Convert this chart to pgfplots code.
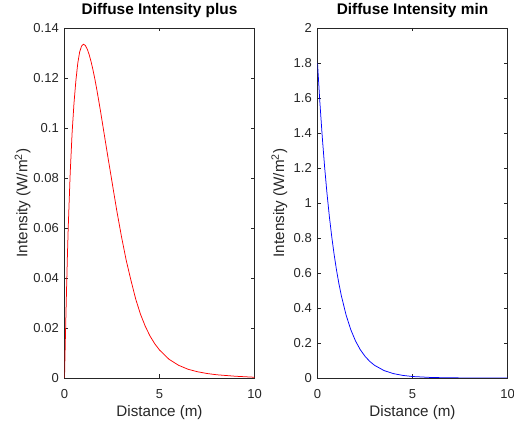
\documentclass[border=0pt]{standalone}
\usepackage{pgfplots}
\pgfplotsset{compat=1.18}
\usepackage{fontspec}
\setmainfont{Liberation Sans}
\definecolor{axgray}{rgb}{0.15,0.15,0.15}

\newcommand\labfont{\fontsize{15.2bp}{17bp}\selectfont}

\pgfplotsset{
  mlab/.style={
    scale only axis,
    width=190bp, height=350bp,
    anchor=south west,
    xmin=0, xmax=10, xtick={0,5,10},
    axis line style={axgray, line width=0.6bp},
    tick style={axgray, line width=0.6bp},
    major tick length=3.5bp,
    tick align=inside,
    xtick pos=both, ytick pos=both,
    scaled ticks=false,
    /pgf/number format/assume math mode=true,
    /pgf/number format/fixed,
    /pgf/number format/precision=2,
    tick label style={font=\fontsize{13bp}{15bp}\selectfont, text=axgray, inner sep=0pt},
    yticklabel style={xshift=-5.5bp},
    xticklabel style={yshift=-11bp},
    every axis x label/.style={at={(axis description cs:0.5,-0.111)}, anchor=base,
      font=\labfont, text=axgray},
    title style={font=\fontsize{15.4bp}{17bp}\selectfont\bfseries, text=black,
      at={(axis description cs:0.5,1)}, anchor=base, yshift=7.5bp},
    xlabel={Distance (m)},
    ylabel={Intensity (W/m\textsuperscript{2})},
  }
}

\begin{document}
\begin{tikzpicture}
\useasboundingbox (0,0) rectangle (514bp,427bp);

\begin{axis}[mlab,
  at={(64.5bp,49bp)},
  ymin=0, ymax=0.14,
  ytick={0,0.02,0.04,0.06,0.08,0.1,0.12,0.14},
  every axis y label/.style={at={(axis description cs:-0.195,0.5)}, rotate=90,
    anchor=base, font=\labfont, text=axgray},
  title={Diffuse Intensity plus},
]
\addplot[red, line width=0.75bp] coordinates {
  (0,0) (0.05,0.017) (0.1,0.033) (0.15,0.048) (0.2,0.061) (0.3,0.082)
  (0.4,0.098) (0.5,0.110) (0.6,0.119) (0.7,0.126) (0.8,0.1305) (0.9,0.1328)
  (1.0,0.1335) (1.1,0.1330) (1.2,0.1315) (1.3,0.1293) (1.4,0.1265) (1.5,0.1232)
  (1.6,0.1195) (1.7,0.1154) (1.8,0.1110) (1.9,0.1065) (2.0,0.1018)
  (2.25,0.0900) (2.5,0.0785) (2.75,0.0670) (3.0,0.0565) (3.25,0.0470)
  (3.5,0.0390) (3.75,0.0315) (4.0,0.0255) (4.25,0.0207) (4.5,0.0168)
  (4.75,0.0137) (5.0,0.0112) (5.5,0.0075) (6.0,0.0051) (6.5,0.0035)
  (7.0,0.0025) (7.5,0.0018) (8.0,0.0013) (8.5,0.0010) (9.0,0.0007)
  (9.5,0.0005) (10,0.0003)
};
\end{axis}

\begin{axis}[mlab,
  at={(317.5bp,49bp)},
  ymin=0, ymax=2,
  ytick={0,0.2,0.4,0.6,0.8,1,1.2,1.4,1.6,1.8,2},
  every axis y label/.style={at={(axis description cs:-0.176,0.5)}, rotate=90,
    anchor=base, font=\labfont, text=axgray},
  title={Diffuse Intensity min},
]
\addplot[blue, line width=0.75bp] coordinates {
  (0,1.8) (0.125,1.575) (0.25,1.378) (0.375,1.205) (0.5,1.054) (0.625,0.922)
  (0.75,0.807) (0.875,0.706) (1.0,0.617) (1.125,0.540) (1.25,0.4725)
  (1.5,0.3616) (1.75,0.2767) (2.0,0.2118) (2.25,0.162) (2.5,0.1240)
  (2.75,0.0949) (3.0,0.0727) (3.5,0.0426) (4.0,0.0249) (4.5,0.0146)
  (5.0,0.0085) (6.0,0.0029) (7.0,0.0010) (8.0,0.0003) (9.0,0.0001)
  (10,0.00004)
};
\end{axis}
\end{tikzpicture}
\end{document}
